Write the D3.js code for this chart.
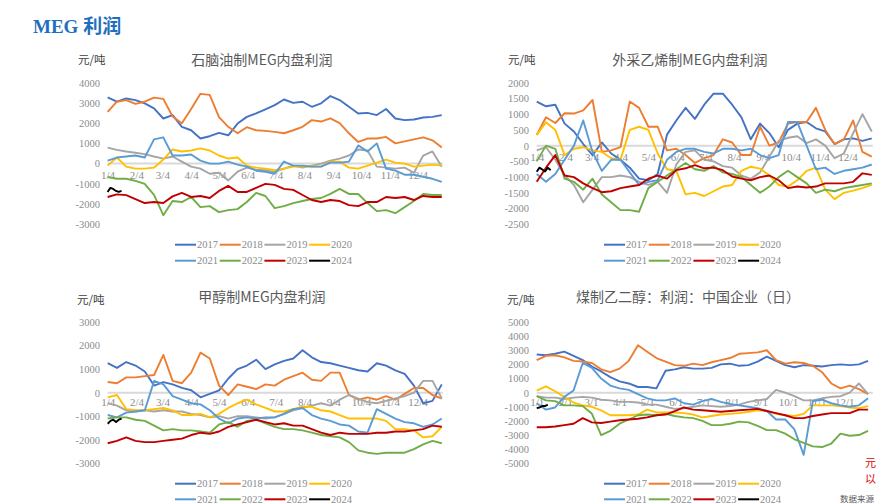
<!DOCTYPE html>
<html><head><meta charset="utf-8">
<script src="https://cdn.jsdelivr.net/npm/d3@7"></script>
<style>body{margin:0;background:#fff;} svg{display:block}</style>
</head><body>
<svg id="c" width="876" height="504"></svg>
<script>
const years = ["2017","2018","2019","2020","2021","2022","2023","2024"];
const colors = ["#4472C4","#ED7D31","#A5A5A5","#FFC000","#5B9BD5","#70AD47","#C00000","#000000"];

// Panel 1: 石脑油制MEG内盘利润 (values every 10 days from 1/4; 2024 every 3 days)
const n17 = [3270,3060,3220,3140,2975,2730,2230,2400,1820,1650,1240,1355,1520,1400,1980,2310,2480,2680,2890,3170,3000,3060,2810,2980,3340,3140,2810,2480,2510,2400,2700,2230,2150,2180,2280,2310,2400];
const n18 = [2560,3060,3140,2950,3060,3260,3200,2330,2000,2700,3450,3400,2300,1820,1500,1800,1650,1620,1570,1500,1650,1820,2150,2080,2240,2000,1500,1070,1240,1240,1320,1000,1100,1200,1300,1150,800];
const n19 = [790,680,600,540,470,350,250,350,100,-150,-250,-500,-450,-830,-400,-200,-300,-330,-410,-250,-100,-200,-100,0,150,250,400,700,650,-150,-200,-250,-200,-450,400,600,-150];
const n20 = [-100,300,-150,-250,-250,-200,200,700,600,650,750,650,400,250,300,-100,-200,-250,-330,-250,-150,-150,-130,-150,100,100,-200,-250,-100,50,200,50,0,-150,-100,-50,-100];
const n21 = [150,300,350,400,300,1200,1300,400,400,450,150,0,0,100,-50,-150,-350,-400,-500,100,-100,-100,-150,-150,50,50,100,900,600,1000,-250,-350,-550,-550,-650,-750,-900];
const n22 = [-660,-750,-750,-850,-1000,-1550,-2550,-1850,-1900,-1650,-2150,-2100,-2400,-2300,-2250,-1900,-1450,-1600,-2200,-2100,-1950,-1850,-1750,-1700,-1500,-1250,-1500,-1500,-1950,-2350,-2300,-2450,-2150,-1850,-1500,-1550,-1550];
const n23 = [-1650,-1520,-1560,-1750,-1950,-1900,-1950,-1620,-1450,-1650,-1600,-1700,-1350,-1100,-1400,-1400,-1200,-1000,-1050,-1250,-1300,-1550,-1800,-1900,-1800,-1850,-2050,-2100,-1900,-1900,-1650,-1700,-1650,-1800,-1600,-1650,-1650];
const n24 = [-1400,-1200,-1250,-1350,-1400,-1350];

// Panel 2: 外采乙烯制MEG内盘利润
const e17 = [1400,1250,1300,700,450,50,-300,100,-250,-450,-700,-1050,-1100,-900,350,800,1200,850,1300,1650,1650,1300,900,200,700,400,-50,500,700,750,550,450,50,200,230,150,230];
const e18 = [340,900,720,1030,1020,1120,1450,-200,-150,-50,1400,1200,600,600,-150,-100,-300,-550,-400,-300,200,100,-300,-300,600,0,100,700,750,750,1200,500,50,200,800,-200,-350];
const e19 = [-150,-50,-450,-950,-1250,-1800,-1400,-1000,-1000,-950,-1000,-1150,-1250,-1150,-1500,-600,-200,-150,-450,-500,-650,-700,-950,-1050,-850,-350,150,250,300,80,200,0,-400,-250,400,1000,450];
const e20 = [340,740,500,-300,-100,-50,-150,-200,-400,-450,500,600,500,-250,-750,-800,-1550,-1500,-1600,-1450,-1300,-1250,-800,-670,-730,-950,-1250,-1300,-1100,-800,-700,-1400,-1700,-1500,-1430,-1350,-1250];
const e21 = [-900,-1150,-900,-450,0,800,-200,-800,-450,-450,-850,-1250,-1150,-1100,-450,-200,-100,-100,-200,-250,-100,-100,-150,-100,-300,-400,-300,750,750,0,-750,-700,-900,-800,-750,-700,-600];
const e22 = [-500,0,-100,-1050,-1150,-1400,-1050,-1550,-1800,-2050,-2050,-2100,-1350,-1150,-950,-750,-550,-750,-800,-650,-850,-900,-1000,-1250,-1500,-1300,-1000,-800,-1000,-1200,-1500,-1400,-1450,-1350,-1300,-1250,-1200];
const e23 = [-1150,-700,-300,-950,-1000,-1200,-1350,-1480,-1450,-1350,-1300,-1250,-1050,-950,-1050,-780,-720,-620,-720,-700,-780,-980,-1050,-1100,-1000,-950,-1100,-1350,-1300,-1330,-1300,-1200,-1200,-1200,-1150,-880,-930];
const e24 = [-830,-700,-760,-820,-700,-780];

// Panel 3: 甲醇制MEG内盘利润
const m17 = [1250,1050,1300,1150,900,300,450,350,200,100,-200,-50,100,600,1000,1150,1400,1000,1200,1350,1450,1800,1500,1300,1250,1150,1050,950,900,1250,1150,950,800,300,-450,-350,350];
const m18 = [450,400,650,650,700,750,1600,500,400,850,1700,1450,300,-100,350,250,150,350,300,550,700,850,550,500,850,850,-100,-300,-200,-300,-150,-300,-50,200,200,-100,-250];
const m19 = [-450,-550,-750,-800,-750,-800,-750,-800,-800,-900,-950,-1050,-1000,-1100,-1000,-1000,-1050,-1100,-1050,-900,-750,-650,-550,-450,-550,-300,-100,-250,-400,-450,-350,-250,-150,0,500,500,-250];
const m20 = [-200,-100,-700,-750,-750,-700,-650,-750,-950,-950,-900,-1050,-900,-650,-450,-300,-500,-650,-800,-800,-700,-600,-600,-750,-800,-950,-1100,-1100,-1100,-1100,-1200,-1550,-1550,-1600,-1900,-1850,-1450];
const m21 = [-950,-1050,-850,-800,-750,500,350,-150,-300,-450,-500,-750,-1100,-1300,-1100,-1050,-1100,-1050,-1050,-900,-700,-650,-950,-1100,-1200,-1350,-1400,-1650,-1700,-700,-900,-1100,-1250,-1300,-1450,-1350,-1100];
const m22 = [-1100,-1050,-1050,-1150,-1200,-1400,-1600,-1550,-1600,-1600,-1650,-1700,-1350,-1250,-1450,-1200,-1150,-1300,-1450,-1550,-1550,-1600,-1700,-1800,-1850,-1900,-2100,-2450,-2550,-2600,-2550,-2550,-2550,-2400,-2200,-2050,-2150];
const m23 = [-2150,-2050,-1900,-2050,-2100,-2100,-2050,-2000,-1950,-1800,-1700,-1750,-1650,-1450,-1350,-1250,-1150,-1250,-1350,-1300,-1400,-1400,-1550,-1700,-1800,-1700,-1750,-1750,-1750,-1700,-1700,-1650,-1650,-1600,-1550,-1400,-1450];
const m24 = [-1320,-1200,-1150,-1250,-1150,-1100];

// Panel 4: 煤制乙二醇：利润：中国企业（日） (values every 10 days from 1/1)
const c17 = [2700,2650,2750,2900,2600,2300,1850,1500,1100,800,650,400,400,300,1550,1650,1800,1700,1700,1750,2000,2050,1900,1950,2200,2550,2250,1950,1800,1950,1900,1850,1950,2000,1950,2000,2250];
const c18 = [2300,2600,2650,2500,2250,2200,2100,1650,1450,1700,2250,3350,2900,2450,2200,1950,1900,2050,1950,2150,2300,2450,2750,2800,2850,3000,2300,2050,2150,2100,1900,1450,650,300,500,250,-100];
const c19 = [-250,-350,-350,-450,-350,-300,-350,-500,-550,-650,-650,-700,-850,-850,-1000,-1150,-1100,-1000,-900,-950,-1000,-950,-850,-650,-550,-450,200,0,-250,-550,-550,-400,-300,-250,0,650,-100];
const c20 = [150,450,100,-300,-700,-900,-1000,-1250,-1600,-1600,-1600,-1550,-1200,-1400,-1400,-1400,-1450,-1550,-1750,-1650,-1550,-1500,-1450,-1350,-1250,-1300,-1500,-1600,-1650,-1500,-900,-900,-900,-950,-1050,-1100,-950];
const c21 = [-750,-1200,-1050,-300,150,2100,1750,1000,500,300,200,-100,-400,-550,-550,-400,-750,-850,-600,-450,-650,-800,-900,-1000,-1100,-1300,-1900,-1900,-2600,-4400,-600,-500,-750,-900,-1000,-900,-400];
const c22 = [-250,-550,-600,-900,-900,-950,-1500,-3000,-2700,-2200,-1900,-1600,-1550,-1600,-1500,-1650,-1750,-1800,-2000,-2300,-2300,-2200,-2050,-2100,-2350,-2650,-2650,-2900,-3300,-3550,-3800,-3850,-3600,-2900,-3050,-3000,-2700];
const c23 = [-2450,-2450,-2400,-2300,-2200,-1800,-2100,-2150,-2050,-1950,-1900,-1850,-1750,-1600,-1550,-1300,-1050,-1200,-1250,-1300,-1350,-1300,-1250,-1200,-1150,-1300,-1450,-1600,-1800,-1800,-1650,-1550,-1450,-1450,-1450,-1200,-1200];
const c24 = [-1100,-1050,-950,-950,-850];

// Tick labels
const xLabels4th = ["1/4","2/4","3/4","4/4","5/4","6/4","7/4","8/4","9/4","10/4","11/4","12/4"];
const xDays4th = [0,31,59,90,120,151,181,212,243,273,304,334];
const xLabels1st = ["1/1","2/1","3/1","4/1","5/1","6/1","7/1","8/1","9/1","10/1","11/1","12/1"];
const xDays1st = [0,31,59,90,120,151,181,212,243,273,304,334];
const yTicks1 = [4000,3000,2000,1000,0,-1000,-2000,-3000];
const yTicks2 = [2000,1500,1000,500,0,-500,-1000,-1500,-2000,-2500];
const yTicks3 = [3000,2000,1000,0,-1000,-2000,-3000];
const yTicks4 = [5000,4000,3000,2000,1000,0,-1000,-2000,-3000,-4000,-5000];

const svg = d3.select("#c");
const GRAY = "#8c8c8c";

svg.append("text").attr("x",33).attr("y",33)
  .attr("font-family","Liberation Serif, Noto Sans CJK SC").attr("font-weight","bold")
  .attr("font-size",19).attr("fill","#1F6FC0").text("MEG 利润");

function drawPanel(p){
  const g = svg.append("g");
  const x = d3.scaleLinear().domain([0,p.dayMax]).range([p.x0,p.x1]);
  const y = d3.scaleLinear().domain([p.vMin,p.vMax]).range([p.yBot,p.yTop]);

  g.append("text").attr("x",p.titleX).attr("y",p.titleY).attr("dy","0.35em")
    .attr("text-anchor","middle").attr("font-family","Noto Sans CJK SC")
    .attr("font-size",14).attr("fill","#595959").text(p.title);
  g.append("text").attr("x",p.unitX).attr("y",p.unitY).attr("dy","0.35em")
    .attr("font-family","Noto Sans CJK SC").attr("font-size",11.5).attr("fill","#404040").text("元/吨");

  const ya = g.append("g").attr("transform",`translate(${p.labelRight},0)`)
    .call(d3.axisLeft(y).tickValues(p.yTicks).tickSize(0).tickPadding(0).tickFormat(d=>d));
  ya.select(".domain").remove();
  ya.selectAll("text").attr("font-family","Liberation Serif").attr("font-size",10.5).attr("fill",GRAY);

  g.append("line").attr("x1",p.x0).attr("x2",p.x1).attr("y1",y(0)).attr("y2",y(0))
    .attr("stroke","#d9d9d9").attr("stroke-width",2);

  const xa = g.append("g").attr("transform",`translate(0,${p.xLabelY})`)
    .call(d3.axisBottom(x).tickValues(p.xDays).tickSize(0).tickPadding(0).tickFormat((d,i)=>p.xLabels[i]));
  xa.select(".domain").remove();
  xa.selectAll("text").attr("y",0).attr("dy","0.35em").attr("font-family","Liberation Serif")
    .attr("font-size",11).attr("fill",GRAY);

  p.series.forEach((vals,k)=>{
    const step = k===7 ? p.step24 : 10;
    const line = d3.line().x((d,i)=>x(i*step)).y(d=>y(d));
    g.append("path").datum(vals).attr("d",line).attr("fill","none")
      .attr("stroke",colors[k]).attr("stroke-width",1.9).attr("stroke-linejoin","round");
  });

  years.forEach((yr,k)=>{
    const col = k%4, row = Math.floor(k/4);
    const lx = p.legendX + col*44.7, ly = row ? p.legY2 : p.legY1;
    g.append("line").attr("x1",lx).attr("x2",lx+21).attr("y1",ly).attr("y2",ly)
      .attr("stroke",colors[k]).attr("stroke-width",2);
    g.append("text").attr("x",lx+22).attr("y",ly).attr("dy","0.35em")
      .attr("font-family","Liberation Serif").attr("font-size",10.5).attr("fill",GRAY).text(yr);
  });
}

drawPanel({x0:107.6,x1:442.7,dayMax:361,yTop:82.7,yBot:224.3,vMax:4000,vMin:-3000,yTicks:yTicks1,
  labelRight:100,xLabelY:175,xLabels:xLabels4th,xDays:xDays4th,title:"石脑油制MEG内盘利润",titleX:262,titleY:60,
  unitX:78,unitY:60,legendX:175,legY1:244.7,legY2:260.7,step24:3,series:[n17,n18,n19,n20,n21,n22,n23,n24]});
drawPanel({x0:536.7,x1:872.7,dayMax:361,yTop:82.7,yBot:224.3,vMax:2000,vMin:-2500,yTicks:yTicks2,
  labelRight:529,xLabelY:156.7,xLabels:xLabels4th,xDays:xDays4th,title:"外采乙烯制MEG内盘利润",titleX:690,titleY:60,
  unitX:508,unitY:60,legendX:604,legY1:244.7,legY2:260.7,step24:3,series:[e17,e18,e19,e20,e21,e22,e23,e24]});
drawPanel({x0:107.7,x1:442.7,dayMax:361,yTop:322,yBot:463.3,vMax:3000,vMin:-3000,yTicks:yTicks3,
  labelRight:100,xLabelY:402.3,xLabels:xLabels4th,xDays:xDays4th,title:"甲醇制MEG内盘利润",titleX:262,titleY:297.5,
  unitX:77,unitY:300,legendX:175,legY1:483.7,legY2:499.3,step24:3,series:[m17,m18,m19,m20,m21,m22,m23,m24]});
drawPanel({x0:536.7,x1:872.7,dayMax:365,yTop:322,yBot:463.3,vMax:5000,vMin:-5000,yTicks:yTicks4,
  labelRight:529,xLabelY:402.3,xLabels:xLabels1st,xDays:xDays1st,title:"煤制乙二醇：利润：中国企业（日）",titleX:688,titleY:297.5,
  unitX:507,unitY:300,legendX:604,legY1:483.7,legY2:499.3,step24:3,series:[c17,c18,c19,c20,c21,c22,c23,c24]});

svg.append("text").attr("x",865).attr("y",467).attr("font-family","Noto Sans CJK SC")
  .attr("font-size",11).attr("fill","#e00000").text("元");
svg.append("text").attr("x",865).attr("y",483).attr("font-family","Noto Sans CJK SC")
  .attr("font-size",11).attr("fill","#e00000").text("以");
svg.append("text").attr("x",840).attr("y",502).attr("font-family","Noto Sans CJK SC")
  .attr("font-size",8.5).attr("fill","#595959").text("数据来源");
</script>
</body></html>
